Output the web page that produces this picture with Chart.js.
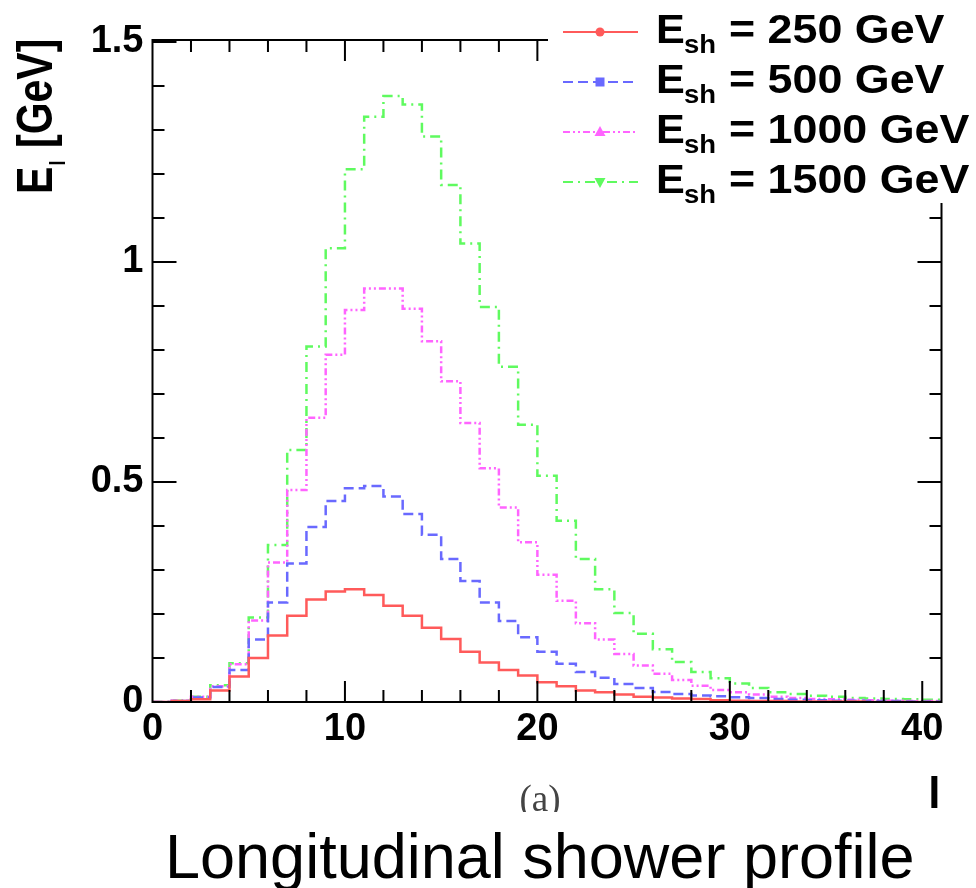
<!DOCTYPE html>
<html><head><meta charset="utf-8">
<script src="https://cdn.jsdelivr.net/npm/chart.js@4.4.1/dist/chart.umd.min.js"></script>
<style>
html,body{margin:0;padding:0;background:#fff;}
#wrap{position:relative;width:976px;height:888px;overflow:hidden;background:#fff;}
#c{position:absolute;left:0;top:0;}
#sub{position:absolute;left:490px;top:778px;width:100px;height:34px;overflow:hidden;text-align:center;font-family:"Liberation Serif",serif;font-size:37px;color:#444;line-height:42px;}
#title{position:absolute;left:165px;top:825px;font-family:"Liberation Sans",Arial,sans-serif;font-size:63px;line-height:63px;white-space:nowrap;color:#000;}
</style></head>
<body><div id="wrap"><canvas id="c" width="976" height="888"></canvas>
<div id="sub">(a)</div><div id="title">Longitudinal shower profile</div></div>
<script>
// bin edges (layer index l)
const binEdges = [0,1,2,3,4,5,6,7,8,9,10,11,12,13,14,15,16,17,18,19,20,21,22,23,24,25,26,27,28,29,30,31,32,33,34,35,36,37,38,39,40,41];
const energies = [250, 500, 1000, 1500];
// E_l [GeV] per layer bin (bins 0..40)
const e250 = [0.000,0.002,0.006,0.026,0.058,0.100,0.151,0.196,0.233,0.251,0.256,0.243,0.219,0.196,0.169,0.143,0.114,0.090,0.073,0.060,0.045,0.036,0.026,0.022,0.017,0.012,0.010,0.008,0.007,0.004,0.003,0.002,0.002,0.001,0.001,0.001,0.001,0.000,0.000,0.000,0.000];
const e500 = [0.000,0.002,0.010,0.034,0.073,0.142,0.226,0.315,0.398,0.457,0.486,0.491,0.467,0.427,0.380,0.325,0.275,0.226,0.184,0.147,0.114,0.087,0.068,0.055,0.041,0.032,0.023,0.018,0.015,0.013,0.011,0.009,0.007,0.005,0.004,0.003,0.003,0.002,0.002,0.001,0.001];
const e1000 = [0.000,0.003,0.012,0.036,0.086,0.185,0.317,0.482,0.646,0.789,0.891,0.940,0.940,0.894,0.820,0.729,0.634,0.531,0.442,0.363,0.289,0.230,0.179,0.142,0.109,0.083,0.064,0.050,0.037,0.027,0.022,0.017,0.012,0.009,0.007,0.006,0.005,0.004,0.003,0.002,0.002];
const e1500 = [0.000,0.003,0.012,0.038,0.088,0.192,0.357,0.573,0.808,1.031,1.211,1.330,1.377,1.358,1.285,1.175,1.042,0.898,0.762,0.630,0.514,0.412,0.325,0.256,0.202,0.155,0.120,0.091,0.068,0.054,0.042,0.032,0.022,0.018,0.014,0.012,0.009,0.008,0.007,0.006,0.005];
// axis ticks
const xTickLabels = [0, 10, 20, 30, 40];
const xMinorTicks = [0,2,4,6,8,10,12,14,16,18,20,22,24,26,28,30,32,34,36,38,40];
const yTickLabels = [0, 0.5, 1, 1.5];
const yMinorTicks = [0,0.1,0.2,0.3,0.4,0.5,0.6,0.7,0.8,0.9,1.0,1.1,1.2,1.3,1.4,1.5];

const seriesValues = [e250, e500, e1000, e1500];
const colors = ['rgb(255,90,90)', 'rgb(105,105,255)', 'rgb(255,100,255)', 'rgb(95,250,95)'];
const dashes = [[], [10,5], [7,3,2,3,2,3], [10,5,2,5]];
const markers = ['circle', 'rect', 'triUp', 'triDown'];

function histPoints(vals){
  const pts = vals.map((v,i)=>({x: binEdges[i], y: v}));
  pts.push({x: binEdges[vals.length], y: vals[vals.length-1]});
  return pts;
}

const datasets = seriesValues.map((vals, i) => ({
  label: 'E_sh = ' + energies[i] + ' GeV',
  data: histPoints(vals),
  borderColor: colors[i],
  borderWidth: 2.5,
  borderDash: dashes[i],
  stepped: 'before',
  pointRadius: 0,
  fill: false,
  marker: markers[i]
}));

const SANS = 'Liberation Sans';

function stretchedText(ctx, text, x, y, font, sx, sy){
  ctx.save();
  ctx.font = font;
  ctx.translate(x, y);
  ctx.scale(sx, sy);
  ctx.fillText(text, 0, 0);
  ctx.restore();
}

const framePlugin = {
  id: 'frame',
  afterDatasetsDraw(chart){
    const {ctx, chartArea: a, scales: {x, y}} = chart;
    ctx.save();
    ctx.strokeStyle = '#000';
    ctx.lineWidth = 2;
    ctx.lineCap = 'butt';
    ctx.beginPath();
    ctx.rect(a.left, a.top - 2, a.right - a.left, a.bottom - a.top + 2);
    for (const v of xMinorTicks){
      const px = x.getPixelForValue(v);
      const L = xTickLabels.includes(v) ? 21 : 12;
      ctx.moveTo(px, a.bottom); ctx.lineTo(px, a.bottom - L);
      ctx.moveTo(px, a.top - 2); ctx.lineTo(px, a.top - 2 + L);
    }
    for (const v of yMinorTicks){
      const py = y.getPixelForValue(v);
      const L = yTickLabels.includes(v) ? 24 : 12;
      ctx.moveTo(a.left, py); ctx.lineTo(a.left + L, py);
      ctx.moveTo(a.right, py); ctx.lineTo(a.right - L, py);
    }
    ctx.stroke();
    ctx.restore();
  },
  afterDraw(chart){
    const {ctx, chartArea: a} = chart;
    ctx.save();
    // legend box (white, covers frame corner)
    ctx.fillStyle = '#fff';
    ctx.fillRect(548, 0, 976 - 548, 203);
    chart.data.datasets.forEach((ds, i) => {
      const yl = 32 + 50 * i;
      ctx.strokeStyle = ds.borderColor;
      ctx.lineWidth = 2;
      ctx.setLineDash(ds.borderDash);
      ctx.beginPath(); ctx.moveTo(563, yl); ctx.lineTo(638, yl); ctx.stroke();
      ctx.setLineDash([]);
      ctx.fillStyle = ds.borderColor;
      const mx = 600;
      ctx.beginPath();
      if (ds.marker === 'circle') ctx.arc(mx, yl, 4.5, 0, Math.PI*2);
      else if (ds.marker === 'rect') ctx.rect(mx - 4.5, yl - 4.5, 9, 9);
      else if (ds.marker === 'triUp'){ ctx.moveTo(mx, yl - 6); ctx.lineTo(mx + 5.5, yl + 4); ctx.lineTo(mx - 5.5, yl + 4); ctx.closePath(); }
      else { ctx.moveTo(mx, yl + 6); ctx.lineTo(mx + 5.5, yl - 4); ctx.lineTo(mx - 5.5, yl - 4); ctx.closePath(); }
      ctx.fill();
      // text: E_sh = N GeV
      const parts = ds.label.split('_');
      const rest = parts[1].slice(2).trim();
      ctx.fillStyle = '#000';
      ctx.textBaseline = 'alphabetic';
      ctx.textAlign = 'left';
      stretchedText(ctx, parts[0], 656, yl + 11, 'bold 40px "' + SANS + '"', 1.08, 1);
      stretchedText(ctx, parts[1].slice(0, 2), 684, yl + 21, 'bold 25px "' + SANS + '"', 1.1, 1);
      stretchedText(ctx, rest, 729, yl + 11, 'bold 40px "' + SANS + '"', 1.12, 1);
    });
    // y axis title E_l [GeV] (rotated)
    ctx.fillStyle = '#000';
    ctx.textAlign = 'left';
    ctx.textBaseline = 'alphabetic';
    ctx.translate(52, 194);
    ctx.rotate(-Math.PI / 2);
    ctx.scale(1, 1.2);
    ctx.font = 'bold 41px "' + SANS + '"';
    ctx.fillText('E', 0, 0);
    ctx.font = 'bold 18px "' + SANS + '"';
    ctx.fillText('l', 28.5, 10.5);
    ctx.font = 'bold 41px "' + SANS + '"';
    ctx.fillText('[GeV]', 46, 0);
    ctx.setTransform(1, 0, 0, 1, 0, 0);
    // x axis title l
    ctx.font = 'bold 44px "' + SANS + '"';
    ctx.textAlign = 'right';
    ctx.fillText('l', a.right - 1, 808);
    ctx.restore();
  }
};

new Chart(document.getElementById('c'), {
  type: 'line',
  data: { datasets },
  options: {
    responsive: false,
    animation: false,
    devicePixelRatio: 1,
    layout: { padding: { left: 0, top: 42, right: 34.5, bottom: 0 } },
    plugins: { legend: { display: false }, tooltip: { enabled: false }, title: { display: false } },
    elements: { point: { radius: 0 }, line: { tension: 0 } },
    scales: {
      x: {
        type: 'linear', min: 0, max: 41,
        grid: { display: false, drawTicks: false },
        border: { display: false },
        ticks: { padding: 5, color: '#000', maxRotation: 0, autoSkip: false,
                 font: { family: SANS, weight: 'bold', size: 38 },
                 callback: v => String(v) },
        afterBuildTicks(s){ s.ticks = xTickLabels.map(v => ({ value: v })); },
        afterFit(s){ s.height = 186; }
      },
      y: {
        type: 'linear', min: 0, max: 1.5,
        grid: { display: false, drawTicks: false },
        border: { display: false },
        ticks: { padding: 9, color: '#000', autoSkip: false,
                 font: { family: SANS, weight: 'bold', size: 38 },
                 callback: v => String(v) },
        afterBuildTicks(s){ s.ticks = yTickLabels.map(v => ({ value: v })); },
        afterFit(s){ s.width = 152.5; }
      }
    }
  },
  plugins: [framePlugin]
});
</script>
</body></html>
